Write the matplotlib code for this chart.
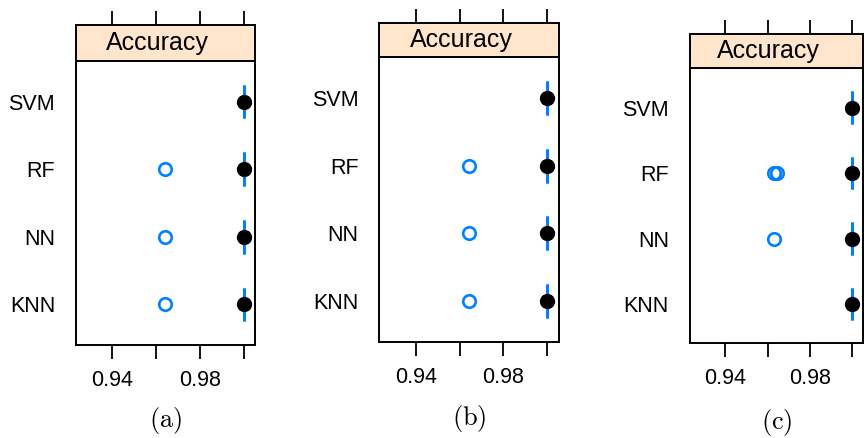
import matplotlib
matplotlib.use("Agg")
import matplotlib.pyplot as plt

plt.rcParams['font.family'] = ['Liberation Sans', 'DejaVu Sans']
plt.rcParams['mathtext.fontset'] = 'cm'

# ---- data ----
models = ['KNN', 'NN', 'RF', 'SVM']
panel_labels = ['(a)', '(b)', '(c)']
strip_title = 'Accuracy'
x_ticks = [0.94, 0.96, 0.98, 1.00]
x_ticklabels = ['0.94', '', '0.98', '']

# box statistics per panel (q1, median, q3 identical -> collapsed box)
q1_a = [1.0, 1.0, 1.0, 1.0]
med_a = [1.0, 1.0, 1.0, 1.0]
q3_a = [1.0, 1.0, 1.0, 1.0]
out_a = [[0.9643], [0.9643], [0.9643], []]

q1_b = [1.0, 1.0, 1.0, 1.0]
med_b = [1.0, 1.0, 1.0, 1.0]
q3_b = [1.0, 1.0, 1.0, 1.0]
out_b = [[0.9643], [0.9643], [0.9643], []]

q1_c = [1.0, 1.0, 1.0, 1.0]
med_c = [1.0, 1.0, 1.0, 1.0]
q3_c = [1.0, 1.0, 1.0, 1.0]
out_c = [[], [0.9632], [0.9630, 0.9643], []]

panels = [(q1_a, med_a, q3_a, out_a),
          (q1_b, med_b, q3_b, out_b),
          (q1_c, med_c, q3_c, out_c)]

# ---- layout (pixels) ----
W, H = 864, 438
# left, right, strip_top, strip_bottom, bottom, caption_y, xlim
layout = [
    (76.0, 255.0, 25.0, 61.0, 345.0, 421.0, (0.9238, 1.0050)),
    (379.3, 558.7, 22.7, 57.3, 341.7, 418.0, (0.9233, 1.0052)),
    (689.7, 863.0, 34.0, 68.3, 343.3, 423.0, (0.9232, 1.0051)),
]

BLUE = '#0080ff'
STRIP = '#ffe5cc'

fig = plt.figure(figsize=(W / 100, H / 100), dpi=100)

for (q1, med, q3, outs), (l, r, st, sb, b, cy, xl), lab in zip(panels, layout, panel_labels):
    ax = fig.add_axes([l / W, 1 - b / H, (r - l) / W, (b - sb) / H])
    sx = fig.add_axes([l / W, 1 - sb / H, (r - l) / W, (sb - st) / H])

    ys = list(range(1, len(models) + 1))
    for y, a, m, c, o in zip(ys, q1, med, q3, outs):
        ax.vlines([a, c], y - 0.25, y + 0.25, color=BLUE, lw=2.0, zorder=2)
        ax.plot([m], [y], 'o', color='black', ms=10, zorder=3)
        if o:
            ax.plot(o, [y] * len(o), 'o', mfc='none', mec=BLUE, ms=9, mew=1.9, zorder=3)

    ax.set_xlim(*xl)
    ax.set_ylim(0.4, 4.6)
    ax.set_yticks(ys)
    ax.set_yticklabels(models, fontsize=15.5)
    ax.set_xticks(x_ticks)
    ax.set_xticklabels(x_ticklabels, fontsize=15.5)
    ax.tick_params(axis='y', length=0, pad=15)
    ax.tick_params(axis='x', direction='out', length=10, width=1.3, pad=8)
    for s in ax.spines.values():
        s.set_linewidth(1.4)

    sx.set_facecolor(STRIP)
    sx.set_xlim(*xl)
    sx.set_ylim(0, 1)
    sx.set_yticks([])
    sx.set_xticks(x_ticks)
    sx.xaxis.tick_top()
    sx.set_xticklabels([])
    sx.tick_params(axis='x', direction='out', length=10, width=1.3, top=True, bottom=False)
    for s in sx.spines.values():
        s.set_linewidth(1.4)
    cx = (l + r) / 2 - 8
    fig.text(cx / W, 1 - (st + sb) / 2 / H, strip_title, fontsize=18,
             ha='center', va='center')

    fig.text((l + r) / 2 / W - 0.0, 1 - cy / H, r'$\mathrm{' + lab + '}$',
             fontsize=19, ha='center', va='center')

fig.savefig('out.png', dpi=100)
